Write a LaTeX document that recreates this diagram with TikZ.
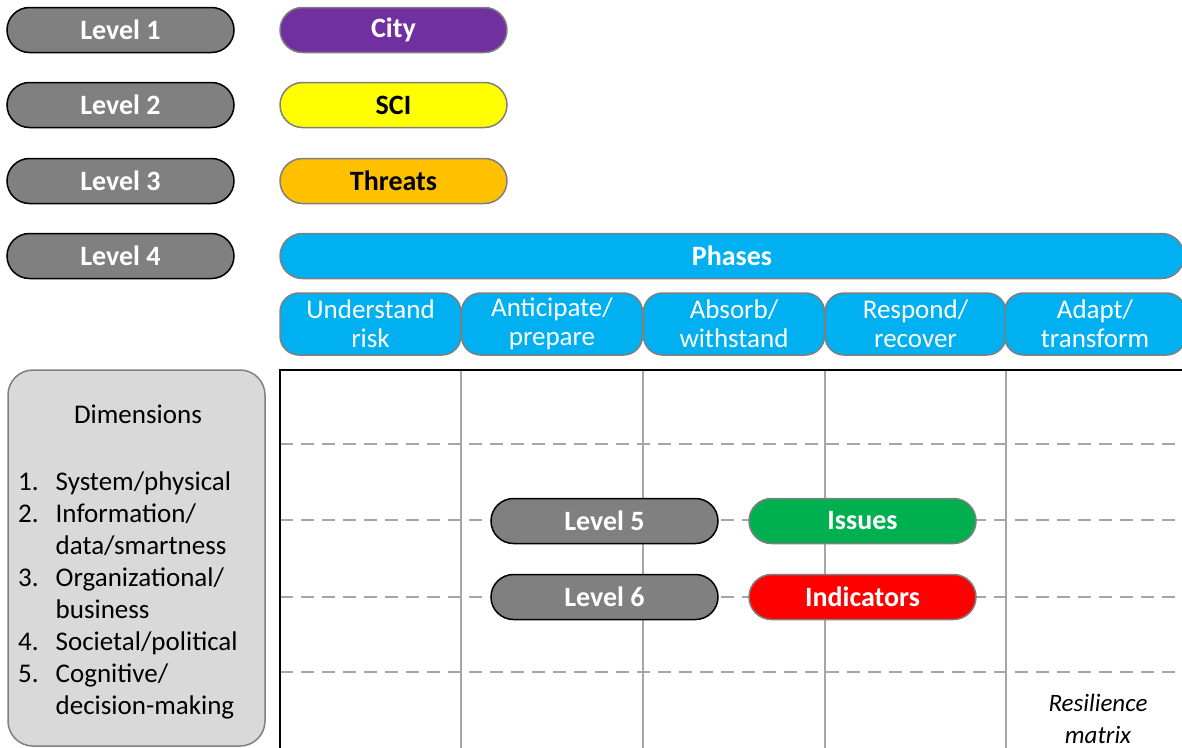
\documentclass[tikz,border=0pt]{standalone}
\usepackage{fontspec}
\setmainfont{Carlito}
\definecolor{lvlgrey}{HTML}{808080}
\definecolor{edgegrey}{HTML}{7F7F7F}
\definecolor{linegrey}{HTML}{A6A6A6}
\definecolor{dimfill}{HTML}{D9D9D9}
\definecolor{cityviolet}{HTML}{7030A0}
\definecolor{sciyellow}{HTML}{FFFF00}
\definecolor{threatorange}{HTML}{FFC000}
\definecolor{phaseblue}{HTML}{00B0F0}
\definecolor{issuegreen}{HTML}{00B050}
\definecolor{indicred}{HTML}{FF0000}

\begin{document}
\begin{tikzpicture}[x=1pt,y=-1pt,
    pill/.style={rounded corners=22.5pt, minimum width=227pt, minimum height=45pt,
        line width=1.5pt, inner sep=0pt, font=\fontsize{28}{32}\selectfont\bfseries},
    lvl/.style={pill, draw=black, fill=lvlgrey, text=white},
    tag/.style={pill, draw=edgegrey},
    phasebox/.style={rounded corners=19pt, draw=edgegrey, line width=1.5pt, fill=phaseblue,
        text=white, minimum width=181pt, minimum height=62pt, inner sep=0pt, align=center,
        font=\fontsize{27}{29}\selectfont},
    gridline/.style={draw=linegrey, line width=1.5pt}]
        \useasboundingbox (0,0) rectangle (1182,747);
        \clip (0,0) rectangle (1182,747);

        \foreach \i/\y in {1/30, 2/105, 3/181, 4/256} {
            \node[lvl] (lvl\i) at (120.5,\y) {Level \i};
        }
        \node[tag, fill=cityviolet, text=white] (city) at (393.5,30) {City};
        \node[tag, fill=sciyellow] (sci) at (393.5,105) {SCI};
        \node[tag, fill=threatorange] (threats) at (393.5,181) {Threats};
        \node[tag, fill=phaseblue, text=white, minimum width=904pt] (phases) at (732,256) {Phases};

        \foreach \x/\t [count=\k] in {370.5/{Understand\\risk}, 552/{Anticipate/\\prepare},
            734/{Absorb/\\withstand}, 915.5/{Respond/\\recover}, 1095/{Adapt/\\transform}} {
            \node[phasebox] (ph\k) at (\x,324) {\t};
        }

        \foreach \x in {461, 643, 825, 1006} {
            \draw[gridline] (\x,370) -- (\x,760);
        }
        \foreach \y in {444, 520, 597, 672} {
            \draw[gridline, dash pattern=on 13pt off 8pt] (280,\y) -- (1200,\y);
        }
        \draw[line width=1.5pt] (280,760) -- (280,370) -- (1200,370);

        \node[draw=edgegrey, fill=dimfill, line width=1.5pt, rounded corners=25pt,
            minimum width=257pt, minimum height=376pt] (dimbox) at (136.5,558) {};
        \node[font=\fontsize{27}{32}\selectfont] (dimtitle) at (138,414) {Dimensions};
        \node[anchor=base west, inner sep=0pt, font=\fontsize{27}{32}\selectfont] (dimlist) at (18,490) {%
            \begin{tabular}[t]{@{}l@{\hspace{17pt}}l@{}}
            1. & System/physical\\
            2. & Information/\\
               & data/smartness\\
            3. & Organizational/\\
               & business\\
            4. & Societal/political\\
            5. & Cognitive/\\
               & decision-making
            \end{tabular}};

        \node[lvl] (lvl5) at (604.5,521) {Level 5};
        \node[tag, fill=issuegreen, text=white] (issues) at (862.5,521) {Issues};
        \node[lvl] (lvl6) at (604.5,597) {Level 6};
        \node[tag, fill=indicred, text=white] (indic) at (862.5,597) {Indicators};

        \node[align=center, font=\fontsize{25}{32}\selectfont\itshape] (resmat) at (1098,719) {Resilience\\matrix};
\end{tikzpicture}
\end{document}
